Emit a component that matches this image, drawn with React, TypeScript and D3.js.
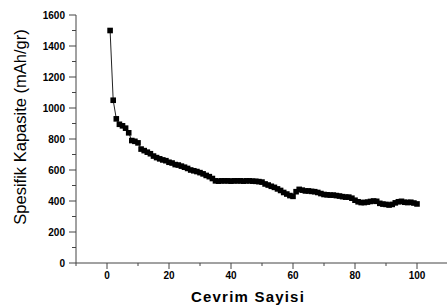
import { scaleLinear, line, range } from "d3";

// cycle number -> specific capacity (mAh/gr)
const capacity = [
  1500, 1050, 930, 895, 885, 870, 840, 790, 785, 775,
  735, 725, 715, 705, 690, 680, 672, 665, 660, 650,
  645, 635, 632, 625, 618, 610, 600, 595, 590, 583,
  575, 565, 557, 545, 530, 528, 530, 530, 530, 528,
  530, 530, 530, 528, 530, 530, 528, 527, 525, 522,
  510, 503, 495, 488, 478, 468, 455, 445, 435, 430,
  460, 475, 470, 465, 465, 462, 460, 455, 448, 442,
  440, 438, 438, 435, 432, 428, 425, 425, 418, 405,
  395, 390, 390, 393, 397, 400, 398, 385, 380, 378,
  374, 378, 388, 395, 398, 392, 390, 392, 387, 381,
];
const cycles = capacity.map((_, i) => i + 1);

const xTicks = [0, 20, 40, 60, 80, 100];
const yTicks = [0, 200, 400, 600, 800, 1000, 1200, 1400, 1600];

const W = 447;
const H = 308;
const font = "Arial, 'Liberation Sans', sans-serif";

export default function App() {
  const x = scaleLinear().domain([-10, 110]).range([76, 448]);
  const y = scaleLinear().domain([0, 1600]).range([263, 15]);

  const path = line<number>()
    .x((_, i) => x(cycles[i]))
    .y((d) => y(d))(capacity) || undefined;

  const axisColor = "#444";
  const xMinor = range(-10, 111, 10).filter((t) => !xTicks.includes(t));
  const yMinor = range(100, 1600, 200);

  return (
    <svg
      width={W}
      height={H}
      style={{ position: "absolute", left: 0, top: 0, background: "#fff" }}
      fontFamily={font}
    >
      {/* y axis */}
      <line x1={76} x2={76} y1={y(1600)} y2={y(0)} stroke={axisColor} />
      {yTicks.map((t) => (
        <g key={t}>
          <line x1={69} x2={76} y1={y(t)} y2={y(t)} stroke={axisColor} />
          <text
            x={65}
            y={y(t)}
            dy="0.35em"
            textAnchor="end"
            fontSize={10}
            fontWeight="bold"
          >
            {t}
          </text>
        </g>
      ))}
      {yMinor.map((t) => (
        <line key={t} x1={72} x2={76} y1={y(t)} y2={y(t)} stroke={axisColor} />
      ))}

      {/* x axis */}
      <line x1={76} x2={448} y1={y(0)} y2={y(0)} stroke={axisColor} />
      {xTicks.map((t) => (
        <g key={t}>
          <line x1={x(t)} x2={x(t)} y1={y(0)} y2={y(0) + 6} stroke={axisColor} />
          <text
            x={x(t)}
            y={279}
            textAnchor="middle"
            fontSize={10}
            fontWeight="bold"
          >
            {t}
          </text>
        </g>
      ))}
      {xMinor.map((t) => (
        <line key={t} x1={x(t)} x2={x(t)} y1={y(0)} y2={y(0) + 3} stroke={axisColor} />
      ))}

      {/* series */}
      <path d={path} fill="none" stroke="#222" strokeWidth={1} />
      {capacity.map((v, i) => (
        <rect
          key={i}
          x={x(cycles[i]) - 2.8}
          y={y(v) - 2.8}
          width={5.6}
          height={5.6}
          fill="#000"
        />
      ))}

      {/* labels */}
      <text
        x={248}
        y={302}
        textAnchor="middle"
        fontSize={15}
        fontWeight="bold"
        letterSpacing={1.2}
      >
        Cevrim Sayisi
      </text>
      <text
        transform={`translate(26, 127) rotate(-90)`}
        textAnchor="middle"
        fontSize={16.5}
      >
        Spesifik Kapasite (mAh/gr)
      </text>
    </svg>
  );
}
